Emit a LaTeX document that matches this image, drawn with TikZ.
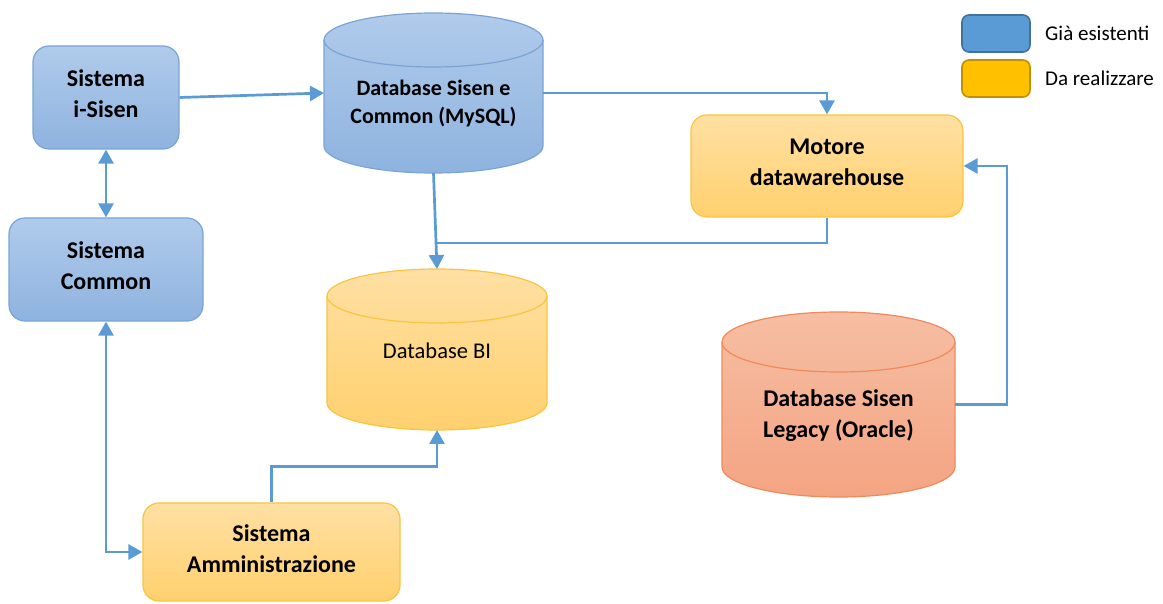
\documentclass[tikz,border=0pt]{standalone}
\usepackage{fontspec}
\setmainfont{Carlito}
\usetikzlibrary{arrows.meta,calc}
\definecolor{connC}{HTML}{5B9BD5}
\definecolor{bluT}{HTML}{B0CBEB}
\definecolor{bluB}{HTML}{8EB3DF}
\definecolor{bluD}{HTML}{7AA4D7}
\definecolor{ylwT}{HTML}{FFE0A3}
\definecolor{ylwB}{HTML}{FFD06E}
\definecolor{ylwD}{HTML}{F9C440}
\definecolor{salT}{HTML}{F6BEA3}
\definecolor{salB}{HTML}{F4A482}
\definecolor{salD}{HTML}{EF8A5C}
\definecolor{legB}{HTML}{5B9BD5}
\definecolor{legBD}{HTML}{41719C}
\definecolor{legY}{HTML}{FFC000}
\definecolor{legYD}{HTML}{BF9000}
\newcommand{\dbcyl}[7]{% xl xr edgecolor rx ytop ybot style
  \path[#7] (#1,#5) -- (#1,#6) arc[start angle=180,end angle=360,x radius=#4,y radius=\cylry] -- (#2,#5) arc[start angle=0,end angle=180,x radius=#4,y radius=\cylry] -- cycle;
  \draw[draw=#3,line width=1.2pt] (#1,#5) arc[start angle=180,end angle=360,x radius=#4,y radius=\cylry];
}
\tikzset{
  tip/.tip={Triangle[length=14pt,width=15pt]},
  conn/.style={draw=connC,line width=2.7pt,-tip},
  dconn/.style={draw=connC,line width=2.7pt,tip-tip},
  plain/.style={draw=connC,line width=2.7pt},
  bluebox/.style={draw=bluD,line width=1.2pt,rounded corners=16pt,top color=bluT,bottom color=bluB,inner sep=0pt},
  ylwbox/.style={draw=ylwD,line width=1.2pt,rounded corners=16pt,top color=ylwT,bottom color=ylwB,inner sep=0pt},
  boxtext/.style={align=center,inner sep=0pt,font=\fontsize{24}{31}\selectfont\bfseries},
  bluecyl/.style={draw=bluD,line width=1.2pt,top color=bluT,bottom color=bluB},
  ylwcyl/.style={draw=ylwD,line width=1.2pt,top color=ylwT,bottom color=ylwB},
  salcyl/.style={draw=salD,line width=1.2pt,top color=salT,bottom color=salB},
  holder/.style={inner sep=0pt,outer sep=0pt,draw=none,fill=none},
  dbtext/.style={align=center,inner sep=0pt,font=\fontsize{22}{28}\selectfont\bfseries},
  legbox/.style={rounded corners=7pt,line width=1.6pt,minimum width=68pt,minimum height=37pt,inner sep=0pt},
  legtext/.style={anchor=west,inner sep=0pt,font=\fontsize{21}{25}\selectfont},
}
\begin{document}
\begin{tikzpicture}[x=1pt,y=1pt]
\useasboundingbox (0,0) rectangle (1163,603);
% boxes
\node[bluebox,minimum width=146pt,minimum height=103pt] (isisen) at (106,505.5) {};
\node[boxtext] (isisenT) at (106,509.5) {Sistema\\i-Sisen};
\node[bluebox,minimum width=194pt,minimum height=103pt] (common) at (106,333.5) {};
\node[boxtext] (commonT) at (106,337.5) {Sistema\\Common};
\node[ylwbox,minimum width=272pt,minimum height=102pt] (motore) at (827,437) {};
\node[boxtext] (motoreT) at (827,440.5) {Motore\\datawarehouse};
\node[ylwbox,minimum width=257pt,minimum height=98pt] (admin) at (271.5,51) {};
\node[boxtext] (adminT) at (271.5,54) {Sistema\\Amministrazione};
% cylinders
\def\cylry{27}
\dbcyl{324}{543}{bluD}{109.5}{563}{457}{bluecyl}
\dbcyl{327}{547}{ylwD}{110}{307}{200}{ylwcyl}
\def\cylry{30}
\dbcyl{722}{955}{salD}{116.5}{261}{136}{salcyl}
\node[holder,minimum width=219pt,minimum height=160pt] (dbs) at (433.5,510) {};
\node[holder,minimum width=220pt,minimum height=161pt] (dbbi) at (437,253.5) {};
\node[holder,minimum width=233pt,minimum height=185pt] (legacy) at (838.5,198.5) {};
\node[dbtext] (dbsT) at (433.5,499) {Database Sisen e\\Common (MySQL)};
\node[dbtext,font=\fontsize{22.5}{28}\selectfont] (dbbiT) at (437,252) {Database BI};
\node[dbtext,font=\fontsize{24}{31}\selectfont\bfseries] (legacyT) at (838.5,187) {Database Sisen\\Legacy (Oracle)};
% legend
\node[legbox,draw=legBD,fill=legB] (legA) at (996,569.5) {};
\node[legbox,draw=legYD,fill=legY] (legC) at (996,524.5) {};
\node[legtext] (legAT) at (1045,570) {Già esistenti};
\node[legtext] (legCT) at (1045,525) {Da realizzare};
% connectors
\coordinate (j1) at (437,360);
\draw[conn] (isisen.east) -- (dbs.west);
\draw[dconn] (isisen.south) -- (common.north);
\draw[conn] (dbs.south) -- (dbbi.north);
\draw[conn] (dbs.east) -| (motore.north);
\draw[plain] (motore.south) |- (j1);
\draw[conn] (admin.north) -- ++(0,36) -| (dbbi.south);
\draw[dconn] (common.south) |- (admin.west);
\draw[conn] (legacy.east) -- ++(52,0) |- (motore.east);
\end{tikzpicture}
\end{document}
